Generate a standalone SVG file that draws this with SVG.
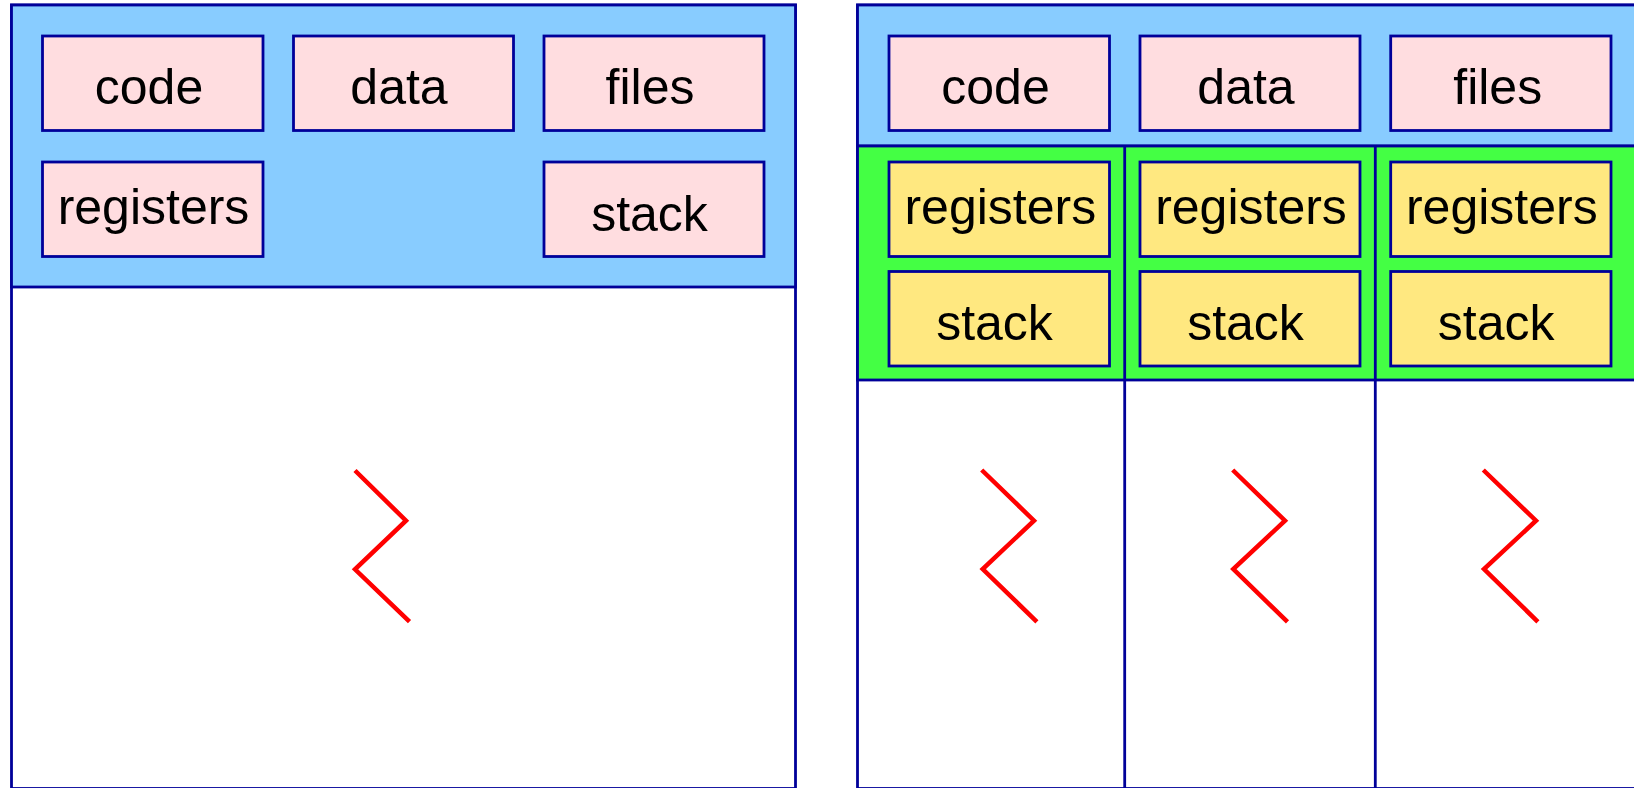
<svg xmlns="http://www.w3.org/2000/svg" width="1634" height="788" viewBox="0 0 1634 788">
<style>
.pan{fill:#ffffff;stroke:#000099;stroke-width:2.8}
.blue{fill:#88ccff;stroke:#000099;stroke-width:2.8}
.green{fill:#44ff44;stroke:#000099;stroke-width:2.8}
.pink{fill:#ffdde0;stroke:#000099;stroke-width:2.8}
.yel{fill:#ffe880;stroke:#000099;stroke-width:2.8}
.div{stroke:#000099;stroke-width:2.8;fill:none}
.zz{fill:none;stroke:#ff0000;stroke-width:4.5;stroke-linecap:butt;stroke-linejoin:miter}
text{font-family:"Liberation Sans",Arial,sans-serif;font-size:50px;fill:#000000;text-anchor:middle}
</style>
<g id="left-process">
<rect class="pan" x="11.5" y="5" width="784" height="783.5"/>
<rect class="blue" x="11.5" y="5" width="784" height="282"/>
<g id="l-code"><rect class="pink" x="42.5" y="36" width="220.5" height="94.5"/><text x="149" y="104">code</text></g>
<g id="l-data"><rect class="pink" x="293.5" y="36" width="220" height="94.5"/><text x="399" y="104">data</text></g>
<g id="l-files"><rect class="pink" x="544" y="36" width="220" height="94.5"/><text x="650" y="104">files</text></g>
<g id="l-registers"><rect class="pink" x="42.5" y="162" width="220.5" height="94.5"/><text x="153.5" y="224">registers</text></g>
<g id="l-stack"><rect class="pink" x="544" y="162" width="220" height="94.5"/><text x="649.5" y="230.5">stack</text></g>
<polyline class="zz" points="355,470.5 406,520.7 355,569.3 409.5,621.7"/>
</g>
<g id="right-process">
<rect class="pan" x="857.5" y="5" width="784" height="783.5"/>
<rect class="blue" x="857.5" y="5" width="784" height="141"/>
<rect class="green" x="857.5" y="146" width="784" height="234"/>
<g id="r-code"><rect class="pink" x="889" y="36" width="220.5" height="94.5"/><text x="995.5" y="104">code</text></g>
<g id="r-data"><rect class="pink" x="1140" y="36" width="220" height="94.5"/><text x="1246" y="104">data</text></g>
<g id="r-files"><rect class="pink" x="1390.7" y="36" width="220.3" height="94.5"/><text x="1497.7" y="104">files</text></g>
<g id="t1-registers"><rect class="yel" x="889" y="162" width="220.5" height="94.5"/><text x="1000.3" y="224">registers</text></g>
<g id="t1-stack"><rect class="yel" x="889" y="271.5" width="220.5" height="94.5"/><text x="994.5" y="340">stack</text></g>
<g id="t2-registers"><rect class="yel" x="1140" y="162" width="220" height="94.5"/><text x="1251" y="224">registers</text></g>
<g id="t2-stack"><rect class="yel" x="1140" y="271.5" width="220" height="94.5"/><text x="1245.5" y="340">stack</text></g>
<g id="t3-registers"><rect class="yel" x="1390.7" y="162" width="220.3" height="94.5"/><text x="1501.8" y="224">registers</text></g>
<g id="t3-stack"><rect class="yel" x="1390.7" y="271.5" width="220.3" height="94.5"/><text x="1496.2" y="340">stack</text></g>
</g>
<g id="connectors">
<line class="div" x1="1124.7" y1="146" x2="1124.7" y2="788"/>
<line class="div" x1="1375.3" y1="146" x2="1375.3" y2="788"/>
<polyline class="zz" points="981.7,470 1034,520.7 982.7,569 1036.9,621.9"/>
<polyline class="zz" points="1232.7,470 1285,520.7 1233.3,569 1287.5,621.9"/>
<polyline class="zz" points="1483.3,470 1536,520.7 1484,569 1537.9,621.9"/>
</g>
</svg>
